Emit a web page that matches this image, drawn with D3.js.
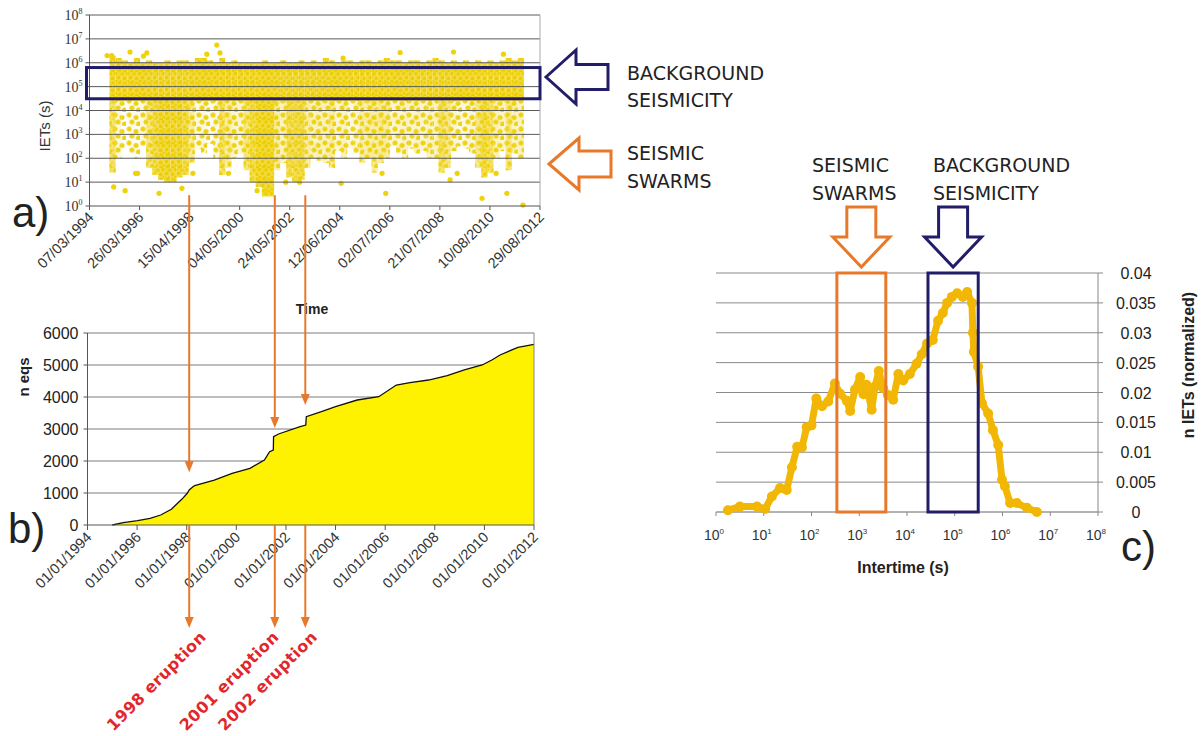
<!DOCTYPE html>
<html>
<head>
<meta charset="utf-8">
<script src="https://cdn.jsdelivr.net/npm/d3@7"></script>
<style>
  body { margin: 0; background: #fff; }
  svg text { font-family: "Liberation Sans", Arial, sans-serif; }
</style>
</head>
<body>
<svg id="chart"></svg>
<script>
// ---- panel a: inter-event times (dense envelope per quarter year) ----
// [start year, top log10(s), bottom log10(s), density of the lower part]
const ietBins = [
    [1995.00, 6.3, 1.4, 0.8], [1995.25, 6.2, 2.0, 0.4], [1995.50, 6.1, 2.4, 0.3], [1995.75, 6.0, 2.2, 0.35],
    [1996.00, 6.2, 2.0, 0.35], [1996.25, 6.0, 2.5, 0.4], [1996.50, 6.1, 1.6, 0.7], [1996.75, 6.0, 1.3, 0.9],
    [1997.00, 6.0, 1.1, 1], [1997.25, 6.1, 1.0, 1], [1997.50, 6.0, 1.0, 1], [1997.75, 6.1, 1.2, 1],
    [1998.00, 6.1, 1.3, 0.9], [1998.25, 6.0, 1.8, 0.6], [1998.50, 6.2, 2.4, 0.4], [1998.75, 6.2, 2.2, 0.4],
    [1999.00, 6.1, 2.6, 0.35], [1999.25, 6.0, 2.0, 0.4], [1999.50, 6.2, 1.3, 0.8], [1999.75, 6.0, 1.6, 0.6],
    [2000.00, 6.1, 2.0, 0.45], [2000.25, 6.0, 2.2, 0.45], [2000.50, 6.0, 1.5, 0.7], [2000.75, 6.0, 1.0, 0.9],
    [2001.00, 6.0, 0.8, 1], [2001.25, 6.1, 0.4, 1], [2001.50, 6.0, 0.4, 1], [2001.75, 6.0, 1.5, 0.6],
    [2002.00, 6.1, 1.8, 0.5], [2002.25, 6.0, 1.2, 0.85], [2002.50, 6.0, 1.0, 0.9], [2002.75, 6.1, 1.1, 0.9],
    [2003.00, 6.0, 1.6, 0.6], [2003.25, 6.1, 2.0, 0.5], [2003.50, 6.0, 1.9, 0.55], [2003.75, 6.2, 1.8, 0.5],
    [2004.00, 6.1, 1.6, 0.6], [2004.25, 6.0, 2.3, 0.45], [2004.50, 6.1, 2.0, 0.5], [2004.75, 6.1, 2.4, 0.4],
    [2005.00, 6.0, 2.2, 0.45], [2005.25, 6.1, 1.8, 0.6], [2005.50, 6.1, 2.0, 0.6], [2005.75, 6.0, 1.4, 0.6],
    [2006.00, 6.1, 1.8, 0.65], [2006.25, 6.2, 2.0, 0.6], [2006.50, 6.1, 2.5, 0.45], [2006.75, 6.1, 2.2, 0.45],
    [2007.00, 6.0, 2.0, 0.5], [2007.25, 6.1, 2.4, 0.45], [2007.50, 6.1, 2.2, 0.5], [2007.75, 6.0, 2.3, 0.45],
    [2008.00, 6.1, 2.0, 0.5], [2008.25, 6.2, 2.0, 0.5], [2008.50, 6.1, 1.4, 0.8], [2008.75, 6.0, 1.6, 0.7],
    [2009.00, 6.1, 2.3, 0.45], [2009.25, 6.0, 2.5, 0.4], [2009.50, 6.1, 2.4, 0.4], [2009.75, 6.0, 2.2, 0.45],
    [2010.00, 6.1, 1.6, 0.7], [2010.25, 6.0, 1.2, 0.9], [2010.50, 6.1, 1.4, 0.8], [2010.75, 6.0, 2.0, 0.5],
    [2011.00, 6.1, 2.3, 0.45], [2011.25, 6.2, 1.5, 0.7], [2011.50, 6.1, 2.2, 0.5], [2011.75, 6.2, 2.0, 0.5]
];
const bandFloor = 4.4; // log10 bottom of the continuous background band

// scattered single events [year, log10(s)]
const ietPoints = [
    [1994.90, 6.3], [1995.09, 6.3], [1995.84, 6.45], [1996.39, 6.28], [1996.53, 6.41], [1998.99, 6.36],
    [1999.40, 6.74], [1999.53, 6.41], [2004.58, 6.2], [2006.92, 6.43], [2009.11, 6.45], [2011.16, 6.36],
    [1995.17, 0.8], [1995.64, 0.64], [1997.03, 0.53], [1997.97, 0.74], [2001.05, 0.64], [2001.42, 0.6],
    [2004.50, 0.95], [2006.33, 0.53], [2010.28, 0.32], [2011.30, 0.53], [2011.96, 0.04],
    [1996.07, 1.37], [1996.15, 1.37], [1998.42, 1.37], [1999.88, 1.37], [2002.23, 1.0], [2002.80, 1.0],
    [2006.18, 1.37], [2008.97, 1.1], [2009.26, 1.37], [2010.86, 1.37]
];
const ietExponents = [0, 1, 2, 3, 4, 5, 6, 7, 8];
const ietTickLabels = ["07/03/1994", "26/03/1996", "15/04/1998", "04/05/2000", "24/05/2002",
    "12/06/2004", "02/07/2006", "21/07/2008", "10/08/2010", "29/08/2012"];
const backgroundBandA = [3.1e4, 6.3e5];

// ---- panel b: cumulative number of earthquakes ----
const cumYears = [1995.0, 1995.44, 1996.02, 1996.52, 1996.95, 1997.38, 1997.81, 1998.03, 1998.10, 1998.25,
    1998.32, 1999.11, 1999.83, 2000.55, 2001.13, 2001.34, 2001.49, 2001.50, 2001.70, 2002.57, 2002.80,
    2002.82, 2003.43, 2004.0, 2004.87, 2005.74, 2006.45, 2007.0, 2007.75, 2008.5, 2009.19, 2009.91,
    2010.3, 2010.63, 2011.35, 2012.0];
const cumCounts = [0, 73, 135, 208, 312, 490, 810, 1000, 1094, 1198,
    1230, 1406, 1615, 1771, 2031, 2292, 2344, 2760, 2844, 3073, 3125,
    3385, 3542, 3700, 3906, 4010, 4375, 4450, 4531, 4667, 4844, 5000,
    5156, 5313, 5552, 5646];
const eqsTicks = [0, 1000, 2000, 3000, 4000, 5000, 6000];
const eqsTickLabels = ["01/01/1994", "01/01/1996", "01/01/1998", "01/01/2000", "01/01/2002",
    "01/01/2004", "01/01/2006", "01/01/2008", "01/01/2010", "01/01/2012"];

// ---- eruptions ----
const eruptionNames = ["1998 eruption", "2001 eruption", "2002 eruption"];
const eruptionYears = [1998.1, 2001.55, 2002.78];
const eruptionTipCounts = [1650, 3030, 3750];

// ---- panel c: IET distribution ----
const distLogX = [0.25, 0.5, 0.86, 1.03, 1.17, 1.34, 1.48, 1.59, 1.70, 1.80, 1.90, 2.00, 2.10, 2.22, 2.35,
    2.49, 2.60, 2.74, 2.81, 2.91, 3.02, 3.09, 3.15, 3.26, 3.33, 3.41, 3.50, 3.60, 3.71, 3.82, 3.92,
    4.06, 4.20, 4.31, 4.42, 4.54, 4.65, 4.75, 4.84, 4.94, 5.05, 5.17, 5.26, 5.36, 5.38, 5.40, 5.49,
    5.57, 5.70, 5.80, 5.91, 5.99, 6.05, 6.16, 6.30, 6.51, 6.72];
const distFreq = [0.0003, 0.0009, 0.0009, 0.0005, 0.0026, 0.004, 0.0037, 0.0075, 0.0109, 0.0108, 0.0142,
    0.0145, 0.019, 0.0177, 0.0185, 0.0215, 0.0198, 0.0186, 0.0169, 0.0205, 0.0226, 0.0197, 0.0213,
    0.0171, 0.021, 0.0236, 0.0207, 0.0196, 0.0188, 0.0231, 0.022, 0.0231, 0.0248, 0.0264, 0.0282,
    0.0288, 0.032, 0.0333, 0.035, 0.036, 0.0366, 0.036, 0.0368, 0.035, 0.030, 0.0268, 0.0243,
    0.0182, 0.0165, 0.0137, 0.0112, 0.0054, 0.0043, 0.0015, 0.0015, 0.0007, 0.0];
const distTicks = [0, 0.005, 0.01, 0.015, 0.02, 0.025, 0.03, 0.035, 0.04];
const distExponents = [0, 1, 2, 3, 4, 5, 6, 7, 8];
const swarmRange = [340, 3600];
const backgroundRange = [2.75e4, 3.1e5];

// colours
const navy = "#211d68", orange = "#e8792a", red = "#e2262b";
const comic = '"DejaVu Sans", sans-serif';

function yearToDate(y) {
    const y0 = Math.floor(y);
    const s = Date.UTC(y0, 0, 1), e = Date.UTC(y0 + 1, 0, 1);
    return new Date(s + (y - y0) * (e - s));
}

const svg = d3.select("#chart").attr("width", 1202).attr("height", 736);
const defs = svg.append("defs");

// dot textures for the scatter envelopes (style only)
const dense = defs.append("pattern").attr("id", "dots")
    .attr("patternUnits", "userSpaceOnUse").attr("width", 12).attr("height", 12);
dense.append("rect").attr("width", 12).attr("height", 12).attr("fill", "#f1d82a");
[[2, 2], [7.5, 1.5], [10.5, 5.5], [4.5, 6.5], [1, 10], [8, 9.5], [5, 11.5], [11.5, 11]].forEach(p => {
    dense.append("circle").attr("cx", p[0]).attr("cy", p[1]).attr("r", 2.4)
        .attr("fill", "#ecce04").attr("stroke", "#f6e27a").attr("stroke-width", 0.5);
});
const sparse = defs.append("pattern").attr("id", "dotsSparse")
    .attr("patternUnits", "userSpaceOnUse").attr("width", 14).attr("height", 14);
[[3, 3], [10, 5.5], [6, 10], [12.5, 12]].forEach(p => {
    sparse.append("circle").attr("cx", p[0]).attr("cy", p[1]).attr("r", 2.5)
        .attr("fill", "#eed20c").attr("stroke", "#f6e27a").attr("stroke-width", 0.5);
});

const parseDMY = d3.utcParse("%d/%m/%Y");

// ================= panel a =================
const a = {left: 89.5, right: 540, top: 15, bottom: 206};
const xA = d3.scaleUtc()
    .domain([parseDMY(ietTickLabels[0]), parseDMY(ietTickLabels[ietTickLabels.length - 1])])
    .range([a.left, a.right]);
const yA = d3.scaleLog().domain([1, 1e8]).range([a.bottom, a.top]);

const gA = svg.append("g");
const binW = 0.25;
const binX = d => xA(yearToDate(d[0]));
const binWidth = d => xA(yearToDate(d[0] + binW)) - xA(yearToDate(d[0]));
gA.selectAll(".band").data(ietBins).enter().append("rect")
    .attr("x", binX).attr("width", binWidth)
    .attr("y", d => yA(10 ** d[1]))
    .attr("height", d => yA(10 ** bandFloor) - yA(10 ** d[1]))
    .attr("fill", "url(#dots)");
gA.selectAll(".streakS").data(ietBins).enter().append("rect")
    .attr("x", binX).attr("width", binWidth)
    .attr("y", yA(10 ** bandFloor))
    .attr("height", d => yA(10 ** d[2]) - yA(10 ** bandFloor))
    .attr("fill", "url(#dotsSparse)");
gA.selectAll(".streakD").data(ietBins).enter().append("rect")
    .attr("x", binX).attr("width", binWidth)
    .attr("y", yA(10 ** bandFloor))
    .attr("height", d => yA(10 ** d[2]) - yA(10 ** bandFloor))
    .attr("fill", "url(#dots)")
    .attr("opacity", d => Math.max(0, (d[3] - 0.3) / 0.7));
gA.selectAll(".pt").data(ietPoints).enter().append("circle")
    .attr("cx", d => xA(yearToDate(d[0])))
    .attr("cy", d => yA(10 ** d[1]))
    .attr("r", 2.6)
    .attr("fill", "#eed20c");

gA.selectAll(".grid").data(ietExponents.slice(1)).enter().append("line")
    .attr("x1", a.left).attr("x2", a.right)
    .attr("y1", d => yA(10 ** d)).attr("y2", d => yA(10 ** d))
    .attr("stroke", "#5a5a5a").attr("stroke-width", 1);
gA.append("line").attr("x1", a.right).attr("x2", a.right).attr("y1", a.top).attr("y2", a.bottom)
    .attr("stroke", "#aaa");
gA.append("line").attr("x1", a.left).attr("x2", a.left).attr("y1", a.top).attr("y2", a.bottom)
    .attr("stroke", "#555");
gA.append("line").attr("x1", a.left).attr("x2", a.right).attr("y1", a.bottom).attr("y2", a.bottom)
    .attr("stroke", "#555");
gA.selectAll(".ytick").data(ietExponents).enter().append("line")
    .attr("x1", a.left - 4).attr("x2", a.left)
    .attr("y1", d => yA(10 ** d)).attr("y2", d => yA(10 ** d)).attr("stroke", "#555");
const yLabA = gA.selectAll(".ylab").data(ietExponents).enter().append("text")
    .attr("x", a.left - 7).attr("y", d => yA(10 ** d) + 5)
    .attr("text-anchor", "end")
    .style("font-family", '"Liberation Serif", serif').style("font-size", "14px").attr("fill", "#333");
yLabA.append("tspan").text("10");
yLabA.append("tspan").attr("dy", -6).style("font-size", "8px").text(d => d);

const datesA = ietTickLabels.map(parseDMY);
gA.selectAll(".xtick").data(datesA).enter().append("line")
    .attr("x1", d => xA(d)).attr("x2", d => xA(d))
    .attr("y1", a.bottom).attr("y2", a.bottom + 4).attr("stroke", "#555");
gA.selectAll(".xlab").data(ietTickLabels).enter().append("text")
    .attr("transform", (d, i) => `translate(${xA(datesA[i]) + 5},${a.bottom + 12}) rotate(-45)`)
    .attr("text-anchor", "end")
    .style("font-size", "14.5px").attr("fill", "#333")
    .text(d => d);

gA.append("rect")
    .attr("x", a.left - 3).attr("width", a.right - a.left + 3)
    .attr("y", yA(backgroundBandA[1])).attr("height", yA(backgroundBandA[0]) - yA(backgroundBandA[1]))
    .attr("fill", "none").attr("stroke", navy).attr("stroke-width", 3);

gA.append("text").attr("transform", `translate(50,126) rotate(-90)`)
    .attr("text-anchor", "middle").style("font-size", "15px").attr("fill", "#333").text("IETs (s)");
gA.append("text").attr("x", 312).attr("y", 314).attr("text-anchor", "middle")
    .style("font-size", "14px").style("font-weight", "bold").attr("fill", "#222").text("Time");
svg.append("text").attr("x", 12).attr("y", 227).style("font-size", "42px").attr("fill", "#222").text("a)");

// left-pointing annotation arrows
function leftArrow(tipX, tipY, headLen, headHalf, shaftLen, shaftHalf, colour) {
    const hx = tipX + headLen, sx = hx + shaftLen;
    const p = d3.path();
    p.moveTo(tipX, tipY);
    p.lineTo(hx, tipY - headHalf);
    p.lineTo(hx, tipY - shaftHalf);
    p.lineTo(sx, tipY - shaftHalf);
    p.lineTo(sx, tipY + shaftHalf);
    p.lineTo(hx, tipY + shaftHalf);
    p.lineTo(hx, tipY + headHalf);
    p.closePath();
    svg.append("path").attr("d", p.toString()).attr("fill", "none")
        .attr("stroke", colour).attr("stroke-width", 3).attr("stroke-linejoin", "miter");
}
leftArrow(546, 77, 30, 27, 32, 12.5, navy);
leftArrow(549, 164, 30, 26, 32, 13, orange);

const noteA = [["BACKGROUND", 80], ["SEISMICITY", 107], ["SEISMIC", 160], ["SWARMS", 188]];
svg.selectAll(".noteA").data(noteA).enter().append("text")
    .attr("x", 627).attr("y", d => d[1])
    .style("font-family", comic).style("font-size", "19px").attr("fill", "#222")
    .text(d => d[0]);

// ================= panel b =================
const b = {left: 87.5, right: 534, top: 333, bottom: 525};
const datesB = eqsTickLabels.map(parseDMY);
const xB = d3.scaleUtc().domain([datesB[0], datesB[datesB.length - 1]]).range([b.left, b.right]);
const yB = d3.scaleLinear().domain([0, 6000]).range([b.bottom, b.top]);
const gB = svg.append("g");

gB.selectAll(".grid").data(eqsTicks.slice(1)).enter().append("line")
    .attr("x1", b.left).attr("x2", b.right)
    .attr("y1", d => yB(d)).attr("y2", d => yB(d))
    .attr("stroke", "#7a7a7a");

const cum = cumYears.map((y, i) => ({date: yearToDate(y), n: cumCounts[i]}));
gB.append("path").datum(cum)
    .attr("d", d3.area().x(d => xB(d.date)).y0(yB(0)).y1(d => yB(d.n)))
    .attr("fill", "#fff200");
gB.append("path").datum(cum)
    .attr("d", d3.line().x(d => xB(d.date)).y(d => yB(d.n)))
    .attr("fill", "none").attr("stroke", "#111").attr("stroke-width", 1.3);

gB.append("line").attr("x1", b.right).attr("x2", b.right).attr("y1", b.top).attr("y2", b.bottom)
    .attr("stroke", "#888");
gB.append("line").attr("x1", b.left).attr("x2", b.left).attr("y1", b.top).attr("y2", b.bottom)
    .attr("stroke", "#555");
gB.append("line").attr("x1", b.left).attr("x2", b.right).attr("y1", b.bottom).attr("y2", b.bottom)
    .attr("stroke", "#555");
gB.selectAll(".ytick").data(eqsTicks).enter().append("line")
    .attr("x1", b.left - 4).attr("x2", b.left)
    .attr("y1", d => yB(d)).attr("y2", d => yB(d)).attr("stroke", "#555");
gB.selectAll(".ylab").data(eqsTicks).enter().append("text")
    .attr("x", b.left - 9).attr("y", d => yB(d) + 6)
    .attr("text-anchor", "end").style("font-size", "16px").attr("fill", "#222")
    .text(d => d);
gB.selectAll(".xtick").data(datesB).enter().append("line")
    .attr("x1", d => xB(d)).attr("x2", d => xB(d))
    .attr("y1", b.bottom).attr("y2", b.bottom + 5).attr("stroke", "#555");
gB.selectAll(".xlab").data(eqsTickLabels).enter().append("text")
    .attr("transform", (d, i) => `translate(${xB(datesB[i]) + 5},${b.bottom + 13}) rotate(-45)`)
    .attr("text-anchor", "end")
    .style("font-size", "14.5px").attr("fill", "#333")
    .text(d => d);
gB.append("text").attr("transform", "translate(29,377) rotate(-90)")
    .attr("text-anchor", "middle").style("font-size", "15px").style("font-weight", "bold")
    .attr("fill", "#222").text("n eqs");
svg.append("text").attr("x", 8).attr("y", 543).style("font-size", "42px").attr("fill", "#222").text("b)");

// ================= eruption arrows =================
function downArrow(x, y1, y2) {
    svg.append("line").attr("x1", x).attr("x2", x).attr("y1", y1).attr("y2", y2 - 8)
        .attr("stroke", orange).attr("stroke-width", 2);
    svg.append("path").attr("d", `M${x - 4.5},${y2 - 11}L${x + 4.5},${y2 - 11}L${x},${y2}Z`)
        .attr("fill", orange);
}
const labelDx = [18, 5, 13];
eruptionYears.forEach((y, i) => {
    const x = xB(yearToDate(y));
    downArrow(x, yA(10 ** 0.45), yB(eruptionTipCounts[i]));
    downArrow(x, b.bottom, 628);
    svg.append("text")
        .attr("transform", `translate(${x + labelDx[i]},${638}) rotate(-45)`)
        .attr("text-anchor", "end")
        .style("font-family", comic).style("font-weight", "bold").style("font-size", "16px")
        .style("letter-spacing", "0.4px")
        .attr("fill", red).text(eruptionNames[i]);
});

// ================= panel c =================
const c = {left: 716, right: 1098, top: 273, bottom: 512};
const xC = d3.scaleLog().domain([1, 1e8]).range([c.left, c.right]);
const yC = d3.scaleLinear().domain([0, 0.04]).range([c.bottom, c.top]);
const gC = svg.append("g");

gC.selectAll(".grid").data(distTicks).enter().append("line")
    .attr("x1", c.left).attr("x2", c.right)
    .attr("y1", d => yC(d)).attr("y2", d => yC(d))
    .attr("stroke", d => d === 0 ? "#666" : "#8a8a8a");
gC.append("line").attr("x1", c.right).attr("x2", c.right).attr("y1", c.top).attr("y2", c.bottom)
    .attr("stroke", "#888");
gC.selectAll(".ytick").data(distTicks).enter().append("line")
    .attr("x1", c.right).attr("x2", c.right + 5)
    .attr("y1", d => yC(d)).attr("y2", d => yC(d)).attr("stroke", "#888");
gC.selectAll(".ylab").data(distTicks).enter().append("text")
    .attr("x", 1136).attr("y", d => yC(d) + 6)
    .attr("text-anchor", "middle").style("font-size", "16px").attr("fill", "#222")
    .text(d => d);
gC.selectAll(".xtick").data(distExponents).enter().append("line")
    .attr("x1", d => xC(10 ** d)).attr("x2", d => xC(10 ** d))
    .attr("y1", c.bottom).attr("y2", c.bottom + 4).attr("stroke", "#888");
const xLabC = gC.selectAll(".xlab").data(distExponents).enter().append("text")
    .attr("x", d => xC(10 ** d) - 2).attr("y", 540)
    .attr("text-anchor", "middle").style("font-size", "14px").attr("fill", "#333");
xLabC.append("tspan").text("10");
xLabC.append("tspan").attr("dy", -6).style("font-size", "8px").text(d => d);

const dist = distLogX.map((lx, i) => ({x: 10 ** lx, v: distFreq[i]}));
gC.append("path").datum(dist)
    .attr("d", d3.line().x(d => xC(d.x)).y(d => yC(d.v)))
    .attr("fill", "none").attr("stroke", "#f2b705").attr("stroke-width", 7)
    .attr("stroke-linejoin", "round");
gC.selectAll(".dot").data(dist).enter().append("circle")
    .attr("cx", d => xC(d.x)).attr("cy", d => yC(d.v)).attr("r", 5)
    .attr("fill", "#f2b705");

function boxAndArrow(range, colour) {
    const x0 = xC(range[0]), x1 = xC(range[1]), cx = (x0 + x1) / 2;
    gC.append("rect").attr("x", x0).attr("width", x1 - x0)
        .attr("y", c.top).attr("height", c.bottom - c.top)
        .attr("fill", "none").attr("stroke", colour).attr("stroke-width", 3);
    const p = d3.path();
    p.moveTo(cx - 14.5, 207);
    p.lineTo(cx + 14.5, 207);
    p.lineTo(cx + 14.5, 237);
    p.lineTo(cx + 28.5, 237);
    p.lineTo(cx, 267);
    p.lineTo(cx - 28.5, 237);
    p.lineTo(cx - 14.5, 237);
    p.closePath();
    gC.append("path").attr("d", p.toString()).attr("fill", "none")
        .attr("stroke", colour).attr("stroke-width", 3);
}
boxAndArrow(swarmRange, orange);
boxAndArrow(backgroundRange, navy);

const noteC = [["SEISMIC", 812, 172], ["SWARMS", 812, 200], ["BACKGROUND", 933, 172], ["SEISMICITY", 933, 200]];
svg.selectAll(".noteC").data(noteC).enter().append("text")
    .attr("x", d => d[1]).attr("y", d => d[2])
    .style("font-family", comic).style("font-size", "19px").attr("fill", "#222")
    .text(d => d[0]);

gC.append("text").attr("x", 903).attr("y", 573).attr("text-anchor", "middle")
    .style("font-size", "16px").style("font-weight", "bold").attr("fill", "#222").text("Intertime (s)");
gC.append("text").attr("transform", "translate(1194,365) rotate(-90)")
    .attr("text-anchor", "middle").style("font-size", "16px").style("font-weight", "bold")
    .attr("fill", "#222").text("n IETs (normalized)");
svg.append("text").attr("x", 1121).attr("y", 561).style("font-size", "42px").attr("fill", "#222").text("c)");
</script>
</body>
</html>
